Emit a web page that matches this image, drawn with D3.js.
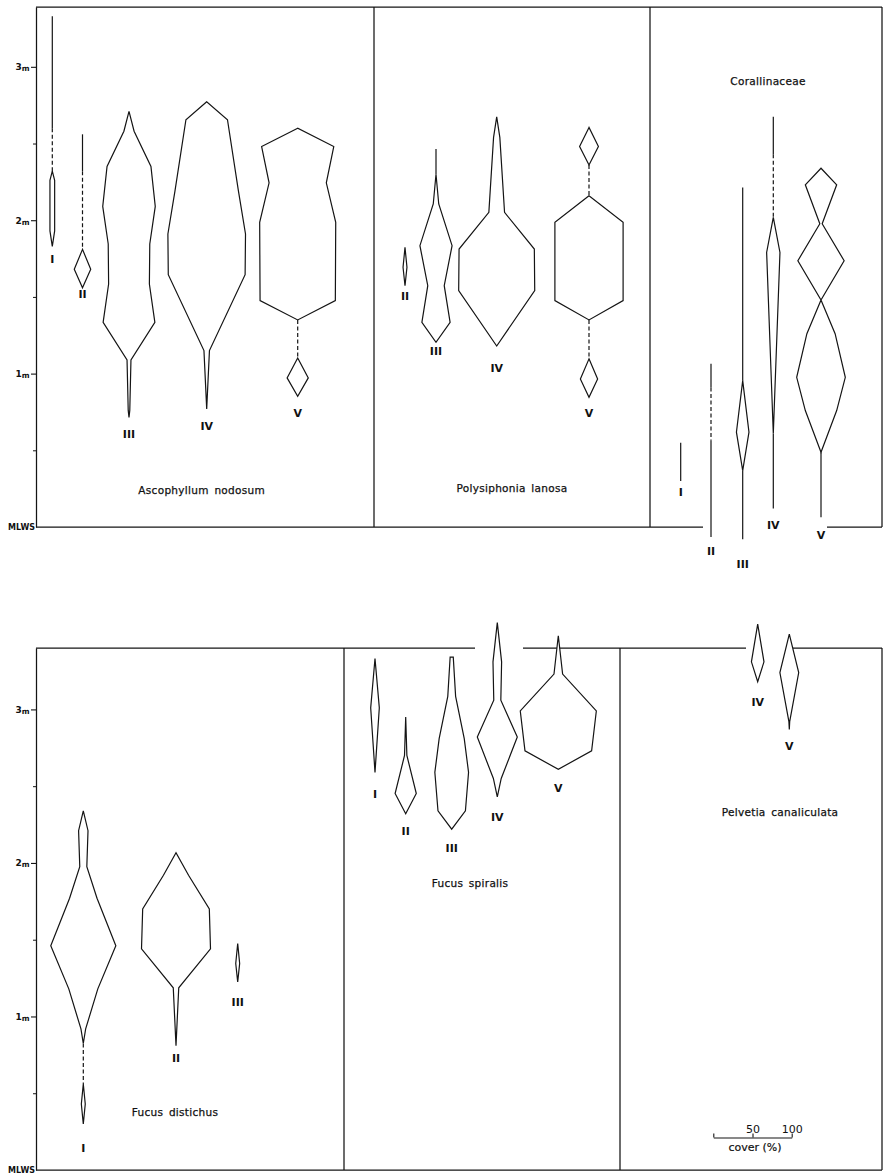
<!DOCTYPE html>
<html>
<head>
<meta charset="utf-8">
<script src="https://cdn.jsdelivr.net/npm/d3@7"></script>
<style>
  body { margin: 0; background: #fff; }
  svg text { font-family: "DejaVu Sans", sans-serif; fill: #111; }
</style>
</head>
<body>
<svg id="chart" width="883" height="1175"></svg>
<script>
// ---- data: height above MLWS (m) and percentage cover for each site ----
// Each site profile is a list of parts:
//   ["k", [[height, cover], ...]]  kite (cover drawn as width)
//   ["s", fromHeight, toHeight]     present, cover too low to measure (solid line)
//   ["d", fromHeight, toHeight]     sporadic occurrence (dashed line)
const siteNames = ["I", "II", "III", "IV", "V"];
const heightMajorTicks = [1, 2, 3];
const heightMinorTicks = [0.5, 1.5, 2.5];
const coverTicks = [0, 50, 100];
const coverTickLabels = ["", "50", "100"];

const ascophyllumNodosum = [
  { site: "I",   parts: [["s", 3.33, 2.60], ["d", 2.60, 2.32], ["k", [[2.32, 0], [2.26, 6], [1.93, 6], [1.83, 0]]]] },
  { site: "II",  parts: [["s", 2.56, 2.32], ["d", 2.32, 1.81], ["k", [[1.81, 0], [1.68, 21], [1.56, 0]]]] },
  { site: "III", parts: [["k", [[2.71, 0], [2.58, 13], [2.35, 56], [2.09, 67], [1.845, 53], [1.584, 52], [1.334, 66], [1.089, 5], [0.76, 2], [0.715, 0]]]] },
  { site: "IV",  parts: [["k", [[2.772, 0], [2.655, 53], [2.19, 81], [1.91, 99], [1.645, 98], [1.15, 7], [0.77, 0]]]] },
  { site: "V",   parts: [["k", [[2.60, 0], [2.48, 92], [2.244, 73], [1.986, 97], [1.476, 96], [1.35, 0]]], ["d", 1.35, 1.102], ["k", [[1.102, 0], [0.972, 27], [0.852, 0]]]] }
];

const polysiphoniaLanosa = [
  { site: "II",  parts: [["k", [[1.823, 0], [1.693, 5], [1.573, 0]]]] },
  { site: "III", parts: [["s", 2.464, 2.30], ["k", [[2.30, 0], [2.106, 7], [1.834, 41], [1.573, 21], [1.334, 36], [1.204, 0]]]] },
  { site: "IV",  parts: [["k", [[2.674, 0], [2.54, 8], [2.051, 20], [1.812, 96], [1.541, 97], [1.18, 0]]]] },
  { site: "V",   parts: [["k", [[2.605, 0], [2.481, 24], [2.36, 0]]], ["d", 2.36, 2.16], ["k", [[2.16, 0], [1.986, 87], [1.476, 87], [1.35, 0]]], ["d", 1.35, 1.096], ["k", [[1.096, 0], [0.965, 22], [0.846, 0]]]] }
];

const corallinaceae = [
  { site: "I",   parts: [["s", 0.55, 0.30]] },
  { site: "II",  parts: [["s", 1.065, 0.91], ["d", 0.91, 0.565], ["s", 0.565, -0.065]] },
  { site: "III", parts: [["s", 2.214, 0.954], ["k", [[0.954, 0], [0.618, 16], [0.368, 0]]], ["s", 0.368, -0.08]] },
  { site: "IV",  parts: [["s", 2.674, 2.43], ["d", 2.43, 2.02], ["k", [[2.018, 0], [1.79, 17], [0.61, 0]]], ["s", 0.61, 0.12]] },
  { site: "V",   parts: [["k", [[2.339, 0], [2.231, 40], [1.977, 3], [1.736, 59], [1.48, 0], [1.26, 36], [0.976, 62], [0.759, 40], [0.487, 0]]], ["s", 0.487, 0.064]] }
];

const fucusDistichus = [
  { site: "I",   parts: [["k", [[2.339, 0], [2.21, 12], [1.975, 9], [1.77, 35], [1.46, 83], [1.18, 37], [0.919, 6], [0.824, 0]]], ["d", 0.824, 0.56], ["k", [[0.56, 0], [0.43, 5], [0.30, 0]]]] },
  { site: "II",  parts: [["k", [[2.066, 0], [1.92, 32], [1.70, 85], [1.44, 88], [1.187, 7], [0.81, 0]]]] },
  { site: "III", parts: [["k", [[1.475, 0], [1.345, 5], [1.225, 0]]]] }
];

const fucusSpiralis = [
  { site: "I",   parts: [["k", [[3.332, 0], [3.01, 11], [2.59, 0]]]] },
  { site: "II",  parts: [["k", [[2.95, 0], [2.70, 3], [2.452, 27], [2.32, 0]]]] },
  { site: "III", parts: [["k", [[3.34, 4], [3.085, 10], [2.81, 32], [2.59, 43], [2.34, 35], [2.22, 0]]]] },
  { site: "IV",  parts: [["k", [[3.565, 0], [3.31, 11], [3.06, 9], [2.82, 51], [2.55, 10], [2.43, 0]]]] },
  { site: "V",   parts: [["k", [[3.48, 0], [3.23, 11], [2.99, 97], [2.73, 85], [2.61, 0]]]] }
];

const pelvetiaCanaliculata = [
  { site: "IV",  parts: [["k", [[3.555, 0], [3.31, 16], [3.18, 0]]]] },
  { site: "V",   parts: [["k", [[3.49, 0], [3.24, 24], [2.92, 1], [2.87, 0]]]] }
];

// ---- layout ----
const rows = [
  { top: 7,   bottom: 527,  hMax: 3.39, dividers: [374, 650] },
  { top: 648, bottom: 1170, hMax: 3.40, dividers: [344, 620] }
];
const axisX = 36, rightX = 882;
// frame lines are broken where labels hang below / kites rise above the frame
const row0BottomSegments = [[36, 703], [827, 882]];
const row1TopSegments = [[36, 475], [523, 746], [793, 882]];

const panels = [
  { species: "Ascophyllum nodosum", data: ascophyllumNodosum, row: 0, title: [201.7, 490],
    cols: { I: 52.3, II: 82.5, III: 129, IV: 206.7, V: 297.7 },
    labelY: { I: 258, II: 293, III: 433, IV: 425, V: 412 } },
  { species: "Polysiphonia lanosa", data: polysiphoniaLanosa, row: 0, title: [512, 488],
    cols: { II: 405, III: 436, IV: 496.7, V: 589 },
    labelY: { II: 295, III: 350, IV: 367, V: 412 } },
  { species: "Corallinaceae", data: corallinaceae, row: 0, title: [768, 81],
    cols: { I: 680.7, II: 711, III: 742.7, IV: 773.3, V: 821 },
    labelY: { I: 491, II: 550, III: 563, IV: 524, V: 534 } },
  { species: "Fucus distichus", data: fucusDistichus, row: 1, title: [175, 1112],
    cols: { I: 83.3, II: 176, III: 237.7 },
    labelY: { I: 1147, II: 1057, III: 1001 } },
  { species: "Fucus spiralis", data: fucusSpiralis, row: 1, title: [470, 883],
    cols: { I: 375, II: 405.7, III: 451.7, IV: 497.3, V: 558.3 },
    labelY: { I: 793, II: 830, III: 847, IV: 816, V: 787 } },
  { species: "Pelvetia canaliculata", data: pelvetiaCanaliculata, row: 1, title: [780, 812],
    cols: { IV: 757.7, V: 789.3 },
    labelY: { IV: 701, V: 745 } }
];

const ink = "#141414";
const svg = d3.select("#chart");
const cover = d3.scaleLinear().domain([0, 100]).range([0, 78.4]);
rows.forEach(r => {
  r.y = d3.scaleLinear().domain([0, r.hMax]).range([r.bottom, r.top]);
});

// ---- frames and height axes ----
const frame = svg.append("g").attr("stroke", ink).attr("stroke-width", 1.25).attr("fill", "none");
rows.forEach((r, i) => {
  const topSegs = i === 1 ? row1TopSegments : [[axisX, rightX]];
  const botSegs = i === 0 ? row0BottomSegments : [[axisX, rightX]];
  topSegs.forEach(([a, b]) => frame.append("line").attr("x1", a).attr("x2", b).attr("y1", r.top).attr("y2", r.top));
  botSegs.forEach(([a, b]) => frame.append("line").attr("x1", a).attr("x2", b).attr("y1", r.bottom).attr("y2", r.bottom));
  r.dividers.concat([rightX]).forEach(x =>
    frame.append("line").attr("x1", x).attr("x2", x).attr("y1", r.top).attr("y2", r.bottom));

  const major = svg.append("g").attr("transform", `translate(${axisX},0)`)
    .call(d3.axisLeft(r.y).tickValues(heightMajorTicks).tickSize(5).tickSizeOuter(0).tickPadding(1.5)
      .tickFormat(d => d));
  major.select(".domain").attr("stroke", ink).attr("stroke-width", 1.25);
  major.selectAll(".tick line").attr("stroke", ink).attr("stroke-width", 1.1);
  major.selectAll(".tick text")
    .attr("font-family", "DejaVu Sans, sans-serif").attr("font-weight", "bold").attr("font-size", 9)
    .each(function (d) {
      const t = d3.select(this);
      t.text(null);
      t.append("tspan").text(d);
      t.append("tspan").attr("font-size", 7.5).attr("dy", 1).text("m");
    });
  const minor = svg.append("g").attr("transform", `translate(${axisX},0)`)
    .call(d3.axisLeft(r.y).tickValues(heightMinorTicks).tickSize(3).tickSizeOuter(0).tickFormat(""));
  minor.select(".domain").remove();
  minor.selectAll(".tick line").attr("stroke", ink).attr("stroke-width", 1);

  svg.append("text").attr("x", axisX - 1).attr("y", r.bottom + 3)
    .attr("text-anchor", "end").attr("font-size", 8).attr("font-weight", "bold").text("MLWS");
});

// ---- kite diagrams ----
const line = d3.line();
panels.forEach(p => {
  const y = rows[p.row].y;
  const g = svg.append("g");
  p.data.forEach(s => {
    const cx = p.cols[s.site];
    s.parts.forEach(part => {
      if (part[0] === "k") {
        const pts = part[1];
        const left = pts.map(([h, c]) => [cx - cover(c) / 2, y(h)]);
        const right = pts.map(([h, c]) => [cx + cover(c) / 2, y(h)]).reverse();
        g.append("path").attr("d", line(left.concat(right)) + "Z")
          .attr("fill", "#fff").attr("stroke", ink).attr("stroke-width", 1.2)
          .attr("stroke-linejoin", "miter");
      } else {
        g.append("line").attr("x1", cx).attr("x2", cx)
          .attr("y1", y(part[1])).attr("y2", y(part[2]))
          .attr("stroke", ink).attr("stroke-width", 1.2)
          .attr("stroke-dasharray", part[0] === "d" ? "4,2.5" : null);
      }
    });
    g.append("text").attr("x", cx).attr("y", p.labelY[s.site] + 4.5)
      .attr("text-anchor", "middle").attr("font-size", 11).attr("font-weight", "bold")
      .text(s.site);
  });
  svg.append("text").attr("x", p.title[0]).attr("y", p.title[1] + 4)
    .attr("text-anchor", "middle").attr("font-size", 10.5)
    .attr("letter-spacing", 0.3).attr("word-spacing", 2)
    .attr("stroke", "#111").attr("stroke-width", 0.25)
    .text(p.species);
});

// ---- cover scale bar ----
const coverAxisScale = d3.scaleLinear().domain([0, 100]).range([713.3, 713.3 + cover(100)]);
const bar = svg.append("g").attr("transform", "translate(0,1137.5)")
  .call(d3.axisTop(coverAxisScale).tickValues(coverTicks).tickSize(4).tickSizeOuter(0).tickPadding(1)
    .tickFormat((d, i) => coverTickLabels[i]));
bar.select(".domain").attr("stroke", ink).attr("stroke-width", 1.1);
bar.selectAll(".tick line").attr("stroke", ink).attr("stroke-width", 1.1);
bar.selectAll(".tick text").attr("font-family", "DejaVu Sans, sans-serif").attr("font-size", 11).attr("fill", "#111");
svg.append("text").attr("x", 755).attr("y", 1151).attr("text-anchor", "middle")
  .attr("font-size", 11).attr("stroke", "#111").attr("stroke-width", 0.2).text("cover (%)");
</script>
</body>
</html>
